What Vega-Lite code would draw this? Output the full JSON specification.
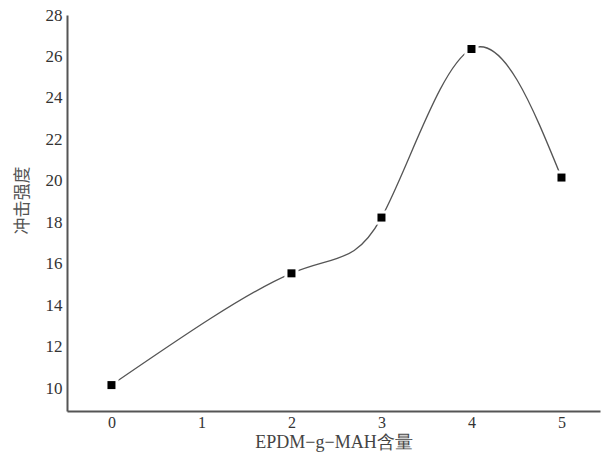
{
  "$schema": "https://vega.github.io/schema/vega-lite/v6.json",
  "width": 533,
  "height": 396,
  "autosize": {"type": "none"},
  "padding": {"left": 67, "top": 15, "right": 5, "bottom": 42},
  "background": "white",
  "config": {"view": {"stroke": null}},
  "data": {"values": [
    {"x": 0, "y": 10.15},
    {"x": 2, "y": 15.54},
    {"x": 3, "y": 18.23},
    {"x": 4, "y": 26.36},
    {"x": 5, "y": 20.16}
  ]},
  "encoding": {
    "x": {"field": "x", "type": "quantitative",
      "scale": {"domain": [-0.494, 5.428], "nice": false, "zero": false},
      "axis": {"values": [0, 1, 2, 3, 4, 5], "title": "EPDM−g−MAH含量", "grid": false, "ticks": false,
        "domainColor": "#555", "domainWidth": 2, "labelFont": "Liberation Serif", "labelFontSize": 16,
        "labelColor": "#333", "labelPadding": 3, "titleFont": "Liberation Serif", "titleFontSize": 18,
        "titleFontWeight": "normal", "titleColor": "#444", "titlePadding": 3}},
    "y": {"field": "y", "type": "quantitative",
      "scale": {"domain": [8.9, 28], "nice": false, "zero": false},
      "axis": {"values": [10, 12, 14, 16, 18, 20, 22, 24, 26, 28], "title": "冲击强度", "grid": false, "ticks": false,
        "domainColor": "#555", "domainWidth": 2, "labelFont": "Liberation Serif", "labelFontSize": 17,
        "labelColor": "#333", "labelPadding": 5, "titleFont": "Noto Sans CJK SC", "titleFontSize": 17,
        "titleFontWeight": "normal", "titleColor": "#555", "titleX": -36, "titleY": 185}}
  },
  "layer": [
    {"mark": {"type": "line", "interpolate": "natural", "color": "#555", "strokeWidth": 1.3}},
    {"mark": {"type": "point", "shape": "square", "filled": true, "color": "white", "size": 200, "opacity": 1}},
    {"mark": {"type": "point", "shape": "square", "filled": true, "color": "black", "size": 64, "opacity": 1}}
  ]
}
